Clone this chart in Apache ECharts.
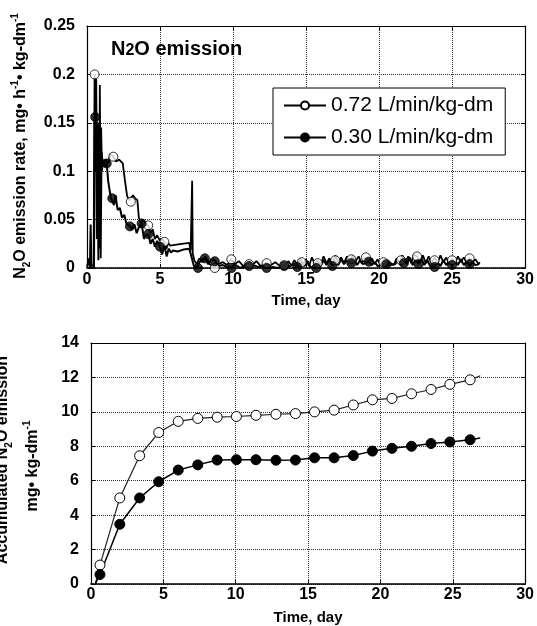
<!DOCTYPE html>
<html><head><meta charset="utf-8">
<script src="https://cdn.jsdelivr.net/npm/echarts@6/dist/echarts.min.js"></script>
<style>html,body{margin:0;padding:0;background:#fff}#c{width:537px;height:626px}</style>
</head><body><div id="c"></div>
<script>
const seriesNames = ['0.72 L/min/kg-dm', '0.30 L/min/kg-dm'];
const timeTicks = ['0', '5', '10', '15', '20', '25', '30'];
const rateTicks = ['0', '0.05', '0.1', '0.15', '0.2', '0.25'];
const accumTicks = ['0', '2', '4', '6', '8', '10', '12', '14'];

// Top panel: continuous emission rate record [time (day), rate]
const rateLine072 = [
  [0,0],[0.1,0.010],[0.18,0.002],[0.3,0],[0.45,0.003],[0.52,0.200],[0.58,0.130],[0.63,0.196],[0.70,0.060],
  [0.76,0.150],[0.82,0.020],[0.88,0.189],[0.94,0.010],[1.0,0.120],[1.1,0.105],[1.25,0.112],[1.45,0.108],
  [1.6,0.118],[1.8,0.115],[2.0,0.110],[2.2,0.112],[2.45,0.108],[2.6,0.090],[2.75,0.074],[2.9,0.070],
  [3.0,0.0685],[3.15,0.075],[3.3,0.072],[3.45,0.070],[3.55,0.052],[3.7,0.046],[3.85,0.050],[4.0,0.045],
  [4.19,0.044],[4.35,0.036],[4.5,0.040],[4.65,0.030],[4.8,0.034],[5.0,0.028],[5.15,0.030],[5.3,0.027],
  [5.45,0.020],[5.55,0.026],[5.7,0.023],[6.0,0.024],[6.5,0.025],[7.0,0.026],[7.1,0.018],[7.2,0.090],
  [7.24,0.015],[7.35,0.008],[7.5,0.004],[7.7,0.010],[7.9,0.006],[8.1,0.012],[8.4,0.004],[8.75,0],
  [9.0,0.004],[9.3,0.006],[9.6,0.003],[9.88,0.009],[10.1,0.004],[10.4,0.007],[10.7,0.002],[11.0,0.006],
  [11.3,0.003],[11.6,0.007],[11.9,0.002],[12.3,0.005],[12.6,0.003],[12.9,0.006],[13.2,0.002],[13.5,0.003],
  [13.8,0.007],[14.0,0.002],[14.2,0.008],[14.4,0.003],[14.6,0.010],[14.8,0.004],[15.0,0.009],[15.2,0.002],
  [15.4,0.011],[15.6,0.004],[15.8,0.008],[16.0,0.003],[16.2,0.012],[16.4,0.005],[16.6,0.010],[16.8,0.004],
  [17.0,0.013],[17.2,0.006],[17.4,0.011],[17.6,0.005],[17.8,0.012],[18.0,0.006],[18.2,0.013],[18.4,0.007],
  [18.6,0.012],[18.8,0.005],[19.1,0.011],[19.3,0.006],[19.5,0.010],[19.7,0.004],[19.9,0.009],[20.1,0.003],
  [20.3,0.008],[20.5,0.004],[20.7,0.006],[21.0,0.003],[21.2,0.010],[21.4,0.005],[21.6,0.013],[21.8,0.006],
  [22.0,0.012],[22.2,0.005],[22.4,0.014],[22.6,0.012],[22.8,0.006],[23.0,0.013],[23.2,0.005],[23.4,0.012],
  [23.6,0.004],[23.8,0.011],[24.0,0.005],[24.2,0.013],[24.4,0.006],[24.6,0.011],[24.8,0.004],[25.0,0.010],
  [25.2,0.005],[25.4,0.012],[25.6,0.006],[25.8,0.011],[26.0,0.005],[26.2,0.010],[26.4,0.006],[26.6,0.009],
  [26.8,0.004],[26.9,0.006]
];
const rateLine030 = [
  [0,0],[0.2,0],[0.25,0.045],[0.3,0],[0.48,0],[0.52,0.150],[0.56,0.156],[0.6,0.100],[0.64,0.160],[0.68,0.030],
  [0.72,0.150],[0.78,0.008],[0.84,0.140],[0.9,0.060],[0.96,0.145],[1.02,0.100],[1.1,0.112],[1.2,0.105],
  [1.35,0.108],[1.45,0.090],[1.55,0.080],[1.65,0.072],[1.73,0.072],[1.85,0.065],[1.95,0.075],[2.1,0.060],
  [2.25,0.062],[2.4,0.052],[2.55,0.055],[2.7,0.046],[2.94,0.043],[3.1,0.040],[3.25,0.045],[3.4,0.036],
  [3.55,0.042],[3.74,0.046],[3.9,0.030],[4.05,0.034],[4.2,0.035],[4.35,0.025],[4.5,0.030],[4.65,0.022],
  [4.8,0.028],[5.0,0.022],[5.15,0.014],[5.3,0.024],[5.45,0.012],[5.6,0.020],[5.75,0.016],[5.9,0.018],
  [6.2,0.017],[6.6,0.019],[7.0,0.020],[7.15,0.012],[7.3,0.003],[7.5,0],[7.7,0.006],[7.9,0.009],[8.07,0.010],
  [8.3,0.004],[8.5,0.009],[8.75,0.008],[9.0,0.002],[9.3,0.003],[9.6,0.001],[9.88,0.001],[10.2,0.003],
  [10.5,0],[10.8,0.002],[11.1,0],[11.4,0.003],[11.7,0.001],[12.0,0.002],[12.3,0],[12.7,0.001],[13.1,0],
  [13.5,0.002],[13.8,0.001],[14.1,0.004],[14.4,0.001],[14.7,0.006],[14.9,0.002],[15.1,0.007],[15.3,0.001],
  [15.6,0],[15.8,0.005],[16.0,0.002],[16.2,0.008],[16.4,0.003],[16.6,0.009],[16.8,0.002],[17.0,0.007],
  [17.2,0.003],[17.4,0.009],[17.6,0.004],[17.8,0.008],[18.1,0.005],[18.3,0.009],[18.5,0.003],[18.7,0.008],
  [18.9,0.004],[19.3,0.0065],[19.5,0.003],[19.7,0.006],[19.9,0.002],[20.1,0.003],[20.4,0.002],[20.8,0.003],
  [21.1,0.004],[21.3,0.008],[21.5,0.003],[21.7,0.010],[21.9,0.004],[22.1,0.011],[22.3,0.003],[22.5,0.009],
  [22.7,0.004],[22.9,0.010],[23.1,0.003],[23.3,0.008],[23.5,0.002],[23.8,0.001],[24.0,0.006],[24.2,0.002],
  [24.4,0.008],[24.6,0.003],[24.8,0.007],[25.0,0.002],[25.2,0.008],[25.4,0.003],[25.6,0.009],[25.8,0.003],
  [26.0,0.007],[26.2,0.002],[26.4,0.006],[26.6,0.003],[26.85,0.004]
];
// Top panel: plotted markers
const rateMarkTime072 = [0.52, 1.8, 3.0, 4.19, 5.3, 8.75, 9.88, 11.1, 12.3, 13.5, 14.7, 15.8, 17.0, 18.1, 19.1, 20.3, 21.5, 22.6, 23.8, 25.0, 26.2];
const rateMark072     = [0.200, 0.115, 0.0685, 0.044, 0.027, 0, 0.009, 0.004, 0.005, 0.003, 0.006, 0.005, 0.008, 0.009, 0.011, 0.006, 0.008, 0.012, 0.008, 0.008, 0.010];
const rateMarkTime030 = [0.56, 1.35, 1.73, 2.94, 3.74, 4.2, 5.0, 7.6, 8.07, 8.75, 9.9, 11.1, 12.3, 13.5, 14.4, 15.7, 16.8, 18.1, 19.3, 20.5, 21.7, 22.7, 23.8, 25.0, 26.2];
const rateMark030     = [0.156, 0.108, 0.072, 0.043, 0.046, 0.035, 0.022, 0, 0.010, 0.007, 0, 0.002, 0, 0.002, 0.001, 0, 0.002, 0.005, 0.0065, 0.004, 0.005, 0.004, 0.001, 0.003, 0.004];

// Bottom panel: accumulated emission
const accumTime = [0.62, 1.99, 3.36, 4.68, 6.03, 7.38, 8.72, 10.05, 11.4, 12.78, 14.13, 15.45, 16.8, 18.13, 19.45, 20.8, 22.15, 23.5, 24.8, 26.2];
const accum072  = [1.1, 5.0, 7.45, 8.8, 9.45, 9.62, 9.69, 9.73, 9.8, 9.86, 9.9, 10.0, 10.1, 10.4, 10.7, 10.78, 11.05, 11.3, 11.6, 11.86];
const accum030  = [0.55, 3.47, 5.0, 5.94, 6.62, 6.92, 7.2, 7.22, 7.22, 7.19, 7.2, 7.33, 7.33, 7.46, 7.72, 7.88, 8.0, 8.16, 8.25, 8.38];
const accumStart = [0.3, 0];
const accumEnd072 = [26.9, 12.1];
const accumEnd030 = [26.9, 8.48];

const FONT = "'Liberation Sans', Arial, Helvetica, sans-serif";
const zip = (a, b) => a.map((t, i) => [t, b[i]]);

function mainX(grid, labels, gap, margin) {
  return {
    gridIndex: grid, type: 'value', min: 0, max: 30, interval: 5, position: 'bottom',
    axisLine: { show: true, onZero: false, lineStyle: { color: '#000', width: 1.5 } },
    axisTick: { show: true, inside: true, length: 4, lineStyle: { color: '#000' } },
    axisLabel: { margin: margin, fontSize: 16, fontWeight: 'bold', color: '#000', fontFamily: FONT, formatter: (v, i) => labels[i] },
    splitLine: { show: true, lineStyle: { type: 'dotted', color: '#333', width: 1 } },
    name: 'Time, day', nameLocation: 'middle', nameGap: gap,
    nameTextStyle: { fontSize: 15, fontWeight: 'bold', color: '#000', fontFamily: FONT }
  };
}
function frameX(grid) {
  return {
    gridIndex: grid, type: 'value', min: 0, max: 30, interval: 5, position: 'top',
    axisLine: { show: true, onZero: false, lineStyle: { color: '#000', width: 1.2 } },
    axisTick: { show: true, inside: true, length: 4, lineStyle: { color: '#000' } },
    axisLabel: { show: false }, splitLine: { show: false }
  };
}
function mainY(grid, max, interval, labels, pad) {
  return {
    gridIndex: grid, type: 'value', min: 0, max: max, interval: interval, position: 'left',
    axisLine: { show: true, onZero: false, lineStyle: { color: '#000', width: 1.2 } },
    axisTick: { show: true, inside: true, length: 4, lineStyle: { color: '#000' } },
    axisLabel: { margin: 12, fontSize: 16, fontWeight: 'bold', color: '#000', fontFamily: FONT, padding: [0, 0, pad, 0], formatter: (v, i) => labels[i] },
    splitLine: { show: true, lineStyle: { type: 'dotted', color: '#333', width: 1 } }
  };
}
function frameY(grid, max, interval) {
  return {
    gridIndex: grid, type: 'value', min: 0, max: max, interval: interval, position: 'right',
    axisLine: { show: true, onZero: false, lineStyle: { color: '#000', width: 1.2 } },
    axisTick: { show: true, inside: true, length: 4, lineStyle: { color: '#000' } },
    axisLabel: { show: false }, splitLine: { show: false }
  };
}

const openStyle = { color: '#fff', borderColor: '#000', borderWidth: 1 };
const fillStyle = { color: '#000', borderColor: '#000', borderWidth: 1 };

function accumData(start, times, vals, end) {
  return [{ value: start, symbol: 'none' }]
    .concat(zip(times, vals).map(p => ({ value: p })))
    .concat([{ value: end, symbol: 'none' }]);
}

const txt = { fontWeight: 'bold', fontFamily: FONT, color: '#000', fill: '#000' };
const richY = {
  m: Object.assign({ fontSize: 16, lineHeight: 22 }, txt),
  sub: Object.assign({ fontSize: 10, verticalAlign: 'bottom' }, txt),
  sup: Object.assign({ fontSize: 10, verticalAlign: 'top' }, txt)
};
const richT = {
  t: Object.assign({ fontSize: 20, lineHeight: 20 }, txt),
  t2: Object.assign({ fontSize: 16, verticalAlign: 'bottom' }, txt)
};
function textEl(x, y, rot, text, rich, align) {
  return {
    type: 'text', x: x, y: y, rotation: rot, z: 100,
    style: { text: text, rich: rich, align: align, verticalAlign: 'middle', textAlign: align, textVerticalAlign: 'middle', fill: '#000' }
  };
}

const chart = echarts.init(document.getElementById('c'), null, { renderer: 'canvas' });
chart.setOption({
  animation: false,
  backgroundColor: '#fff',
  grid: [
    { left: 87, top: 26, width: 439, height: 242 },
    { left: 91, top: 343, width: 438, height: 242 }
  ],
  xAxis: [mainX(0, timeTicks, 25, 4), frameX(0), mainX(1, timeTicks, 26, 3), frameX(1)],
  yAxis: [mainY(0, 0.25, 0.05, rateTicks, 4), frameY(0, 0.25, 0.05), mainY(1, 14, 2, accumTicks, 8), frameY(1, 14, 2)],
  legend: {
    data: seriesNames, orient: 'vertical', left: 273, top: 88,
    itemWidth: 42, itemHeight: 10, itemGap: 11, padding: [7, 12, 7, 10],
    borderColor: '#000', borderWidth: 1, backgroundColor: '#fff',
    textStyle: { fontSize: 21, fontFamily: FONT, color: '#000' },
    selectedMode: false, z: 20
  },
  graphic: [
    textEl(21, 146, Math.PI / 2, '{m|N}{sub|2}{m|O emission rate, mg• h}{sup|-1}{m|• kg-dm}{sup|-1}', richY, 'center'),
    textEl(3, 460, Math.PI / 2, '{m|Accumulated N}{sub|2}{m|O emission}', richY, 'center'),
    textEl(33, 466, Math.PI / 2, '{m|mg• kg-dm}{sup|-1}', richY, 'center'),
    textEl(111, 49, 0, '{t|N}{t2|2}{t|O emission}', richT, 'left')
  ],
  series: [
    { name: seriesNames[0], type: 'line', xAxisIndex: 0, yAxisIndex: 0, data: rateLine072, showSymbol: false,
      symbol: 'circle', symbolSize: 9, itemStyle: openStyle, lineStyle: { color: '#000', width: 1.8 }, z: 3 },
    { name: seriesNames[1], type: 'line', xAxisIndex: 0, yAxisIndex: 0, data: rateLine030, showSymbol: false,
      symbol: 'circle', symbolSize: 9, itemStyle: fillStyle, lineStyle: { color: '#000', width: 2 }, z: 3 },
    { name: seriesNames[0], type: 'scatter', xAxisIndex: 0, yAxisIndex: 0, data: zip(rateMarkTime072, rateMark072),
      symbol: 'circle', symbolSize: 9, itemStyle: openStyle, clip: false, z: 5 },
    { name: seriesNames[1], type: 'scatter', xAxisIndex: 0, yAxisIndex: 0, data: zip(rateMarkTime030, rateMark030),
      symbol: 'circle', symbolSize: 9, itemStyle: fillStyle, clip: false, z: 5 },
    { name: seriesNames[0], type: 'line', xAxisIndex: 2, yAxisIndex: 2, data: accumData(accumStart, accumTime, accum072, accumEnd072),
      symbol: 'circle', symbolSize: 10, showAllSymbol: true, itemStyle: openStyle, lineStyle: { color: '#222', width: 1.2 }, clip: false, z: 4 },
    { name: seriesNames[1], type: 'line', xAxisIndex: 2, yAxisIndex: 2, data: accumData(accumStart, accumTime, accum030, accumEnd030),
      symbol: 'circle', symbolSize: 10, showAllSymbol: true, itemStyle: fillStyle, lineStyle: { color: '#000', width: 1.5 }, clip: false, z: 4 }
  ]
});
</script>
</body></html>
